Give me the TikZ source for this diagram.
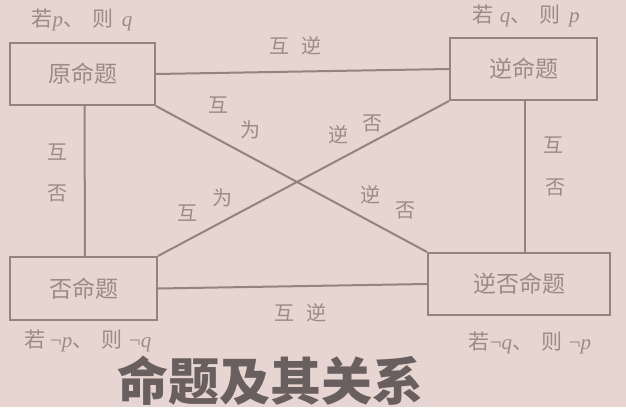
\documentclass[tikz,border=0pt]{standalone}
\usepackage{fontspec}
\newfontfamily\cjk{Noto Sans CJK SC}
\newfontfamily\ser{Liberation Serif}
\newcommand{\vp}{{\ser\itshape p}}
\newcommand{\vq}{{\ser\itshape q}}
\newcommand{\nt}{{\ser ¬}}
\definecolor{bgc}{RGB}{231,213,209}
\definecolor{inkc}{RGB}{150,130,128}
\definecolor{txtc}{RGB}{155,138,135}
\definecolor{titc}{RGB}{105,95,95}
\tikzset{
  prop/.style={draw=inkc, line width=2pt, text=txtc, font=\cjk\fontsize{23}{23}\selectfont, inner sep=0pt},
  conn/.style={draw=inkc, line width=2pt},
  lbl/.style={text=txtc, font=\cjk\fontsize{20}{20}\selectfont, inner sep=0pt},
  cond/.style={text=txtc, font=\cjk\fontsize{21}{21}\selectfont, inner sep=0pt},
}
\begin{document}
\begin{tikzpicture}[x=1pt,y=-1pt]
\fill[bgc] (0,0) rectangle (626,407);
\useasboundingbox (0,0) rectangle (626,407);
\node[prop, minimum width=145pt, minimum height=62pt] (a) at (82.5,74) {原命题};
\node[prop, minimum width=147pt, minimum height=62pt] (b) at (523.5,69) {逆命题};
\node[prop, minimum width=147pt, minimum height=63pt] (c) at (83.5,288.5) {否命题};
\node[prop, minimum width=182pt, minimum height=62pt] (d) at (519,284) {逆否命题};
\draw[conn] (a.east) -- (b.west);
\draw[conn] (c.east) -- (d.west);
\draw[conn] ([xshift=2pt]a.south) -- ([xshift=1.5pt]c.north);
\draw[conn] ([xshift=1.5pt]b.south) -- ([xshift=6pt]d.north);
\draw[conn] (a.south east) -- (d.north west);
\draw[conn] (c.north east) -- (b.south west);
\node[cond] (ta) at (82,20) {若\vp、\hspace{0.4em}则\hspace{0.4em}\vq};
\node[cond] (tb) at (526,16) {若\hspace{0.3em}\vq、\hspace{0.4em}则\hspace{0.4em}\vp};
\node[cond] (tc) at (88,341) {若\hspace{0.2em}\nt\vp、\hspace{0.4em}则\hspace{0.3em}\nt\vq};
\node[cond] (td) at (530,343) {若\nt\vq、\hspace{0.4em}则\hspace{0.3em}\nt\vp};
\node[lbl] (l1) at (295,46) {互\hspace{0.6em}逆};
\node[lbl] (l2) at (300,313) {互\hspace{0.6em}逆};
\node[lbl] (l3a) at (57,152) {互};
\node[lbl] (l3b) at (57,193) {否};
\node[lbl] (l4a) at (553,145) {互};
\node[lbl] (l4b) at (555,187) {否};
\node[lbl] (l5a) at (218,105) {互};
\node[lbl] (l5b) at (250,130) {为};
\node[lbl] (l6a) at (338,135) {逆};
\node[lbl] (l6b) at (372,123) {否};
\node[lbl] (l7a) at (187,213) {互};
\node[lbl] (l7b) at (222,198) {为};
\node[lbl] (l8a) at (370,195) {逆};
\node[lbl] (l8b) at (405,210) {否};
\node[text=titc, font=\cjk\bfseries\fontsize{51}{51}\selectfont, inner sep=0pt] (title) at (270,381) {命题及其关系};
\end{tikzpicture}
\end{document}
